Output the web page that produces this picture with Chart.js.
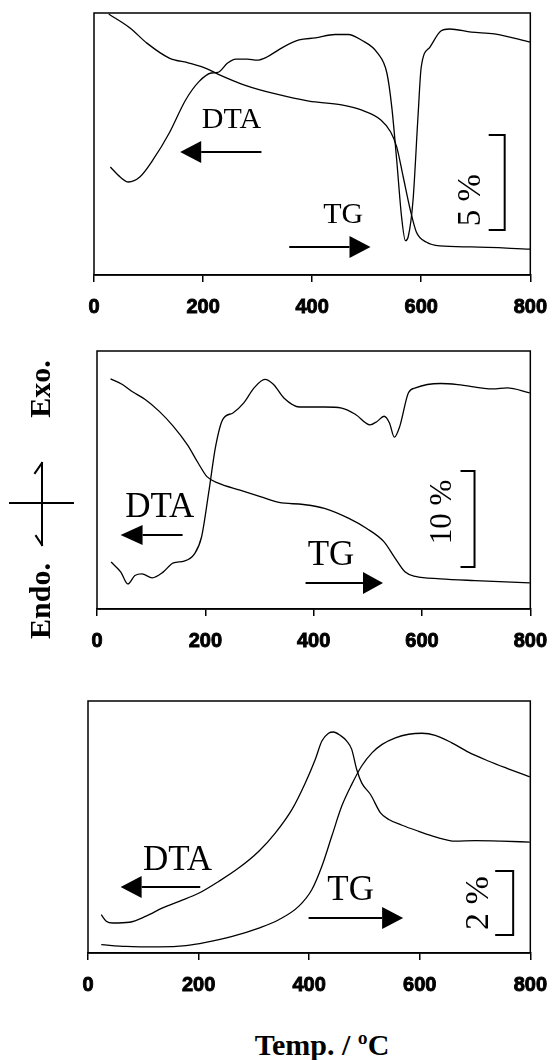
<!DOCTYPE html>
<html><head><meta charset="utf-8">
<script src="https://cdn.jsdelivr.net/npm/chart.js@4.4.0/dist/chart.umd.min.js"></script>
<style>
html,body{margin:0;padding:0;background:#fff;}
#wrap{position:relative;width:560px;height:1060px;overflow:hidden;background:#fff;}
canvas{position:absolute;left:0;}
.rot{position:absolute;font:bold 30px "Liberation Serif",serif;line-height:30px;white-space:nowrap;transform:translate(-50%,-50%) rotate(-90deg);color:#000;}
#xtitle{position:absolute;left:322px;top:1030px;transform:translateX(-50%);font:bold 30px "Liberation Serif",serif;line-height:30px;white-space:nowrap;color:#000;}
</style></head>
<body>
<div id="wrap">
<canvas id="c1" width="560" height="330" style="top:0px"></canvas>
<canvas id="c2" width="560" height="340" style="top:330px"></canvas>
<canvas id="c3" width="560" height="340" style="top:670px"></canvas>
<div class="rot" style="left:40px;top:389px">Exo.</div>
<div class="rot" style="left:40px;top:601px">Endo.</div>
<svg style="position:absolute;left:0;top:450px" width="90" height="110">
  <g stroke="#000" stroke-width="2" fill="none" stroke-linecap="square">
    <line x1="10" y1="53" x2="73" y2="53"/>
    <line x1="42" y1="13" x2="42" y2="53"/>
    <line x1="42" y1="13" x2="35" y2="23"/>
    <line x1="42" y1="53" x2="42" y2="95"/>
    <line x1="42" y1="95" x2="36" y2="86"/>
  </g>
</svg>
<div id="xtitle">Temp. / ºC</div>
</div>
<script>
// ---------- Data (temperature in °C, signal in arbitrary units 0-100) ----------
const xTicks = [0, 200, 400, 600, 800];

// Panel 1
const p1_dta_T = [30,48,63,84,108,138,168,192,215,227,245,260,281,299,317,347,376,406,442,466,490,520,537,546,555,564,571,576,585,594,600,616,636,652,692,734,800];
const p1_dta_v = [41.2,37.4,35.5,37.4,43.9,54.2,66.8,73.7,77.1,77.3,80.9,82.4,82.4,82,83.2,87,89.7,90.5,91.8,91.8,89.7,84.7,77.1,64.1,43.9,22.1,13.1,14.5,28.6,60.3,79.4,87,93.1,93.9,92.7,92,88.9];
const p1_tg_T = [27,66,97,138,174,204,227,276,335,394,454,490,526,544,555,567,580,591,609,634,692,800];
const p1_tg_v = [99.6,94.3,88.5,82.8,80.9,79,76.7,72.5,69,66.4,64.9,63,59.2,54.6,48.9,37.4,24.8,16.4,12.6,11.1,10.7,9.9];

// Panel 2
const p2_dta_T = [26,44,57,70,83,102,122,141,161,180,193,206,219,232,251,271,290,310,326,345,374,420,452,478,504,517,530,540,549,559,575,588,634,666,731,757,799];
const p2_dta_v = [18.2,14.3,9.7,13.0,13.6,12.1,14.3,17.9,18.6,21.4,27.9,44.8,63.0,73.4,76.0,79.9,85.7,89.0,87.0,81.8,78.3,78.3,77.9,75.3,71.4,72.7,74.7,72.1,66.6,70.8,83.8,85.7,87.4,87.0,85.3,85.7,83.8];
const p2_tg_T = [25,47,64,89,115,141,167,187,203,225,264,303,336,381,420,465,498,530,549,569,588,634,698,799];
const p2_tg_v = [89.2,87.0,84.4,81.2,76.6,70.8,63.6,56.5,51.3,48.7,46.1,43.5,41.3,40.5,39.0,35.1,31.2,26.0,20.1,14.3,12.6,11.7,11.0,10.1];

// Panel 3
const p3_dta_T = [24,33,45,75,105,135,165,201,237,273,309,339,369,393,411,423,435,444,456,468,477,486,495,511,529,544,568,598,628,664,700,748,799];
const p3_dta_v = [15.2,12.6,11.9,12.2,14.6,17.9,20.5,23.8,28.5,33.8,40.4,47.7,57.0,67.5,76.8,84.1,87.2,87.7,86.4,84.1,80.8,72.8,67.5,62.9,55.6,53.0,50.7,48.3,46.1,44.4,44.6,44.4,44.0];
const p3_tg_T = [24,69,129,177,213,261,309,345,381,405,423,441,459,477,495,514,532,556,580,604,628,658,688,724,760,799];
const p3_tg_v = [3.3,2.6,2.4,2.9,4.2,6.6,9.9,13.2,18.5,25.2,34.4,46.4,58.3,66.9,74.2,79.5,82.8,85.4,86.8,87.2,86.4,83.4,79.7,76.2,73.1,69.9];

// Annotation labels
const scaleLabels = ['5 %', '10 %', '2 %'];

// ---------- Helpers ----------
function pts(T, v){ return T.map((t,i)=>({x:t, y:v[i]})); }

const annotPlugin = {
  id: 'annot',
  afterDraw(chart, args, opts){
    const ctx = chart.ctx, xs = chart.scales.x, ys = chart.scales.y, a = chart.chartArea;
    const X = v => xs.getPixelForValue(v), Y = v => ys.getPixelForValue(v);
    ctx.save();
    // frame
    ctx.strokeStyle = '#000'; ctx.lineWidth = 1.5;
    ctx.strokeRect(a.left, a.top, a.right - a.left, a.bottom - a.top);
    ctx.fillStyle = '#000';
    // texts
    (opts.texts||[]).forEach(t=>{
      ctx.font = (t.bold?'bold ':'') + t.size + 'px "Liberation Serif", serif';
      ctx.save();
      ctx.translate(X(t.x), Y(t.y));
      if (t.rot){ ctx.rotate(-Math.PI/2); ctx.textBaseline='middle'; }
      else ctx.textBaseline='alphabetic';
      ctx.textAlign='center';
      ctx.fillText(t.text, 0, 0);
      ctx.restore();
    });
    // arrows
    (opts.arrows||[]).forEach(r=>{
      const x1 = X(r.x1), x2 = X(r.x2), y = Y(r.y);
      const dir = Math.sign(x2 - x1);
      const base = x2 - dir * r.head;
      ctx.lineWidth = 2;
      ctx.beginPath(); ctx.moveTo(x1, y); ctx.lineTo(base, y); ctx.stroke();
      ctx.beginPath(); ctx.moveTo(x2, y); ctx.lineTo(base, y - r.half); ctx.lineTo(base, y + r.half); ctx.closePath(); ctx.fill();
    });
    // scale bars
    (opts.bars||[]).forEach(b=>{
      const x = X(b.x), y1 = Y(b.y1), y2 = Y(b.y2);
      ctx.lineWidth = 2;
      ctx.beginPath();
      ctx.moveTo(x - b.tick, y1); ctx.lineTo(x, y1); ctx.lineTo(x, y2); ctx.lineTo(x - b.tick, y2);
      ctx.stroke();
    });
    ctx.restore();
  }
};

function makeChart(id, pad, axisH, dta, tg, annot){
  return new Chart(document.getElementById(id), {
    type: 'line',
    data: { datasets: [
      { label: 'DTA', data: dta, borderColor: '#000', borderWidth: 1.3, pointRadius: 0, fill: false, cubicInterpolationMode: 'monotone' },
      { label: 'TG', data: tg, borderColor: '#000', borderWidth: 1.3, pointRadius: 0, fill: false, cubicInterpolationMode: 'monotone' }
    ]},
    options: {
      responsive: false, animation: false, events: [],
      layout: { padding: pad },
      plugins: { legend: {display:false}, tooltip: {enabled:false}, annot: annot },
      scales: {
        x: {
          type: 'linear', min: xTicks[0], max: xTicks[xTicks.length-1],
          afterFit: s => { s.height = axisH; },
          afterBuildTicks: s => { s.ticks = xTicks.map(v=>({value:v})); },
          ticks: { color: '#000', font: { family: '"Liberation Sans", Arial, sans-serif', size: 20, weight: 'bold' }, padding: 13, maxRotation: 0, textStrokeColor: '#000', textStrokeWidth: 0.9 },
          grid: { drawOnChartArea: false, drawTicks: true, tickLength: 7, color: '#000', lineWidth: 1.5 },
          border: { display: true, color: '#000', width: 1.5 }
        },
        y: { display: false, min: 0, max: 100 }
      }
    },
    plugins: [annotPlugin]
  });
}

makeChart('c1', {left:94, right:21, top:13, bottom:0}, 55,
  pts(p1_dta_T, p1_dta_v), pts(p1_tg_T, p1_tg_v),
  { texts: [ {text:'DTA', x:252, y:56.1, size:30}, {text:'TG', x:457, y:19.8, size:30}, {text:scaleLabels[0], x:692, y:28.6, size:33, rot:true} ],
    arrows: [ {x1:307, x2:158, y:46.9, head:21, half:11}, {x1:358, x2:507, y:10.7, head:21, half:11} ],
    bars: [ {x:753, y1:53.4, y2:17.2, tick:16} ] });

makeChart('c2', {left:97, right:22, top:21, bottom:0}, 61,
  pts(p2_dta_T, p2_dta_v), pts(p2_tg_T, p2_tg_v),
  { texts: [ {text:'DTA', x:116, y:35.7, size:35}, {text:'TG', x:432, y:17.1, size:35}, {text:scaleLabels[1], x:638, y:37.6, size:31, rot:true} ],
    arrows: [ {x1:158, x2:43.5, y:28.7, head:22, half:10}, {x1:385, x2:528, y:10.1, head:20, half:11} ],
    bars: [ {x:697, y1:53.5, y2:16.3, tick:14} ] });

makeChart('c3', {left:88, right:27, top:31, bottom:0}, 57,
  pts(p3_dta_T, p3_dta_v), pts(p3_tg_T, p3_tg_v),
  { texts: [ {text:'DTA', x:162, y:32.9, size:35}, {text:'TG', x:475, y:21.0, size:35}, {text:scaleLabels[2], x:708, y:19.8, size:34, rot:true} ],
    arrows: [ {x1:203, x2:59, y:26.2, head:21, half:11}, {x1:399, x2:570, y:13.9, head:21, half:11} ],
    bars: [ {x:769, y1:32.5, y2:7.1, tick:18} ] });
</script>
</body></html>
